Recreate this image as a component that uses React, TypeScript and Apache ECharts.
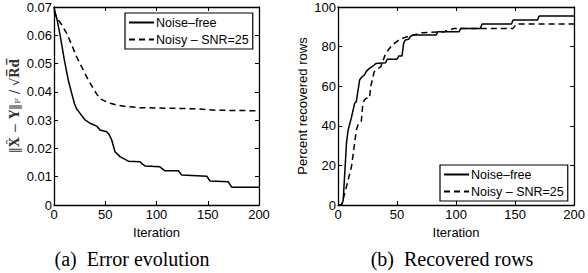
import React, { useEffect, useRef } from "react";
import * as echarts from "echarts";

// ---------- data ----------
const seriesNames = ["Noise–free", "Noisy – SNR=25"];

// (a) error evolution: [iteration, error]
const errNoiseFree: [number, number][] = [
  [0, 0.0698], [3, 0.0655], [6, 0.060], [10, 0.0515], [14, 0.044], [18, 0.0385],
  [20, 0.0358], [22, 0.034], [25.4, 0.0324], [30, 0.0302], [35.1, 0.0289],
  [41.6, 0.0279], [44.9, 0.0265], [51.4, 0.0259], [54, 0.0248], [56.3, 0.023],
  [59.5, 0.0188], [64.4, 0.0171], [72.5, 0.0155], [83.9, 0.0153], [86, 0.0145],
  [88.8, 0.0138], [103.4, 0.0135], [106, 0.0127], [108.3, 0.0121], [121.3, 0.0121],
  [124.6, 0.0106], [149, 0.0102], [152.2, 0.0085], [170, 0.0082], [173.4, 0.0063],
  [200, 0.0063],
];
const errNoisy: [number, number][] = [
  [0, 0.0685], [2.6, 0.0662], [7, 0.064], [12.4, 0.0607], [17, 0.0568], [22.1, 0.0524],
  [27, 0.0488], [31.9, 0.0453], [37, 0.042], [41.7, 0.0392], [45, 0.0375],
  [49.8, 0.0367], [55, 0.036], [61.2, 0.0353], [70, 0.0348], [83.9, 0.0344],
  [100, 0.0343], [116, 0.0342], [140, 0.034], [158, 0.0335], [180, 0.0334],
  [200, 0.0333],
];

// (b) recovered rows: [iteration, percent]
const recNoiseFree: [number, number][] = [
  [0, 0], [3, 0], [4.4, 2.3], [7.2, 31.5], [8.6, 38], [11.3, 44], [14.1, 51.4],
  [15.5, 52.2], [18.3, 63.1], [20, 64.5], [22.4, 65.7], [24, 67.5], [26.6, 69],
  [28, 69.5], [30.7, 70.7], [32.1, 71.5], [40.4, 71.9], [41.7, 73.6], [50, 73.6],
  [51.5, 75.3], [54.2, 75.3], [55.6, 81.7], [57, 83.3], [59.8, 83.7], [61.1, 85],
  [63.9, 85.9], [83.2, 85.9], [84.6, 87.5], [102.6, 87.5], [103.9, 89.2],
  [120.6, 89.2], [122, 91.4], [146.9, 91.4], [148.3, 93.4], [169, 93.4],
  [170.4, 95.5], [200, 95.5],
];
const recNoisy: [number, number][] = [
  [0, 0], [3, 0], [7.2, 9.3], [11.4, 19.4], [14.1, 31.2], [15.5, 37.9], [16.9, 40.4],
  [19.7, 42], [21, 51], [22.4, 53], [23.8, 53.9], [26.6, 53.9], [28, 60.6],
  [30.7, 67.3], [33, 68.5], [36.3, 69.9], [40.4, 76.6], [45.9, 80.8], [51.5, 83.3],
  [56, 84.5], [61.1, 85.4], [70.8, 87], [90.2, 87.5], [92, 88], [98.5, 89.2],
  [148.3, 89.2], [151, 91.4], [200, 91.4],
];

const xTicks = { min: 0, max: 200, interval: 50 };
const errTicks = { min: 0, max: 0.07, interval: 0.01 };
const recTicks = { min: 0, max: 100, interval: 20 };

const captions = ["(a)\u2002Error evolution", "(b)\u2002Recovered rows"];
const xName = "Iteration";
const recYName = "Percent recovered rows";

// ---------- styles ----------
const SANS = "Liberation Sans, Arial, Helvetica, sans-serif";
const SERIF = "Liberation Serif, Times New Roman, serif";
const AX_W = 1.3;

function valueAxis(gridIndex: number, pos: string, ticks: any, showLabel: boolean, extra: any = {}) {
  return {
    type: "value",
    gridIndex,
    position: pos,
    min: ticks.min,
    max: ticks.max,
    interval: ticks.interval,
    axisLine: { show: true, onZero: false, lineStyle: { color: "#000", width: AX_W } },
    axisTick: { show: true, inside: true, length: 4, lineStyle: { color: "#000", width: 1 } },
    axisLabel: {
      show: showLabel,
      color: "#000",
      fontFamily: SANS,
      fontSize: 13,
      margin: 3,
      showMaxLabel: true,
      showMinLabel: true,
    },
    splitLine: { show: false },
    ...extra,
  };
}

function lineSeries(name: string, data: [number, number][], idx: number, dashed: boolean) {
  return {
    type: "line",
    name,
    data,
    xAxisIndex: idx * 2,
    yAxisIndex: idx * 2,
    showSymbol: false,
    symbol: "none",
    lineStyle: { color: "#000", width: 1.5, type: dashed ? [6, 4] : "solid" },
    itemStyle: { color: "#000" },
    z: 3,
  };
}

export default function App() {
  const ref = useRef<HTMLDivElement>(null);
  useEffect(() => {
    if (!ref.current) return;
    const chart = echarts.init(ref.current, null, { renderer: "svg" });
    const legendBase = {
      orient: "vertical",
      borderColor: "#000",
      borderWidth: 1.2,
      backgroundColor: "#fff",
      padding: [3, 4, 3, 3],
      itemWidth: 25,
      itemHeight: 10,
      itemGap: 4,
      itemStyle: { opacity: 0 },
      textStyle: { color: "#000", fontFamily: SANS, fontSize: 12.5, padding: [0, 0, 0, -3] },
      data: seriesNames,
      selectedMode: false,
    };
    const nameStyle = { color: "#000", fontFamily: SANS, fontSize: 13 };
    chart.setOption({
      animation: false,
      backgroundColor: "#fff",
      grid: [
        { left: 54, top: 7, width: 205, height: 198, show: false },
        { left: 338, top: 7, width: 241, height: 198, show: false },
      ],
      xAxis: [
        valueAxis(0, "bottom", xTicks, true, {
          name: xName, nameLocation: "middle", nameGap: 16, nameTextStyle: nameStyle,
        }),
        valueAxis(0, "top", xTicks, false),
        valueAxis(1, "bottom", xTicks, true, {
          name: xName, nameLocation: "middle", nameGap: 16, nameTextStyle: nameStyle,
        }),
        valueAxis(1, "top", xTicks, false),
      ],
      yAxis: [
        valueAxis(0, "left", errTicks, true, {
          axisLabel: {
            show: true, color: "#000", fontFamily: SANS, fontSize: 13, margin: 2,
            formatter: (v: number) => (v === 0 ? "0" : v.toFixed(2)),
          },
          name: "{n|‖}{b|X\u0302}{n| − }{b|Y}{n|‖}{s|F}{n| / √}{b|R\u0305d\u0305}",
          nameLocation: "middle",
          nameRotate: 90,
          nameGap: 33,
          nameTextStyle: {
            color: "#333",
            rich: {
              n: { fontFamily: "DejaVu Serif", fontSize: 12.5, color: "#333" },
              b: { fontFamily: "DejaVu Serif", fontSize: 12.5, fontWeight: "bold", color: "#333" },
              s: { fontFamily: "DejaVu Serif", fontSize: 8, color: "#333", verticalAlign: "bottom", padding: [6, 0, 0, 0] },
            },
          },
        }),
        valueAxis(0, "right", errTicks, false),
        valueAxis(1, "left", recTicks, true, {
          axisLabel: { show: true, color: "#000", fontFamily: SANS, fontSize: 13, margin: 2 },
          name: recYName,
          nameLocation: "middle",
          nameRotate: 90,
          nameGap: 29,
          nameTextStyle: nameStyle,
        }),
        valueAxis(1, "right", recTicks, false),
      ],
      legend: [
        { ...legendBase, left: 125, top: 13 },
        { ...legendBase, left: 440, top: 165 },
      ],
      series: [
        lineSeries(seriesNames[0], errNoiseFree, 0, false),
        lineSeries(seriesNames[1], errNoisy, 0, true),
        lineSeries(seriesNames[0], recNoiseFree, 1, false),
        lineSeries(seriesNames[1], recNoisy, 1, true),
      ],
      graphic: [
        {
          type: "text", x: 132, y: 259,
          style: { text: captions[0], font: `20px ${SERIF}`, fill: "#000", textAlign: "center", textVerticalAlign: "middle" },
        },
        {
          type: "text", x: 452, y: 259,
          style: { text: captions[1], font: `20px ${SERIF}`, fill: "#000", textAlign: "center", textVerticalAlign: "middle" },
        },
      ],
    });
    return () => chart.dispose();
  }, []);
  return (
    <div
      ref={ref}
      style={{ position: "absolute", left: 0, top: 0, width: 588, height: 273, background: "#fff" }}
    />
  );
}
